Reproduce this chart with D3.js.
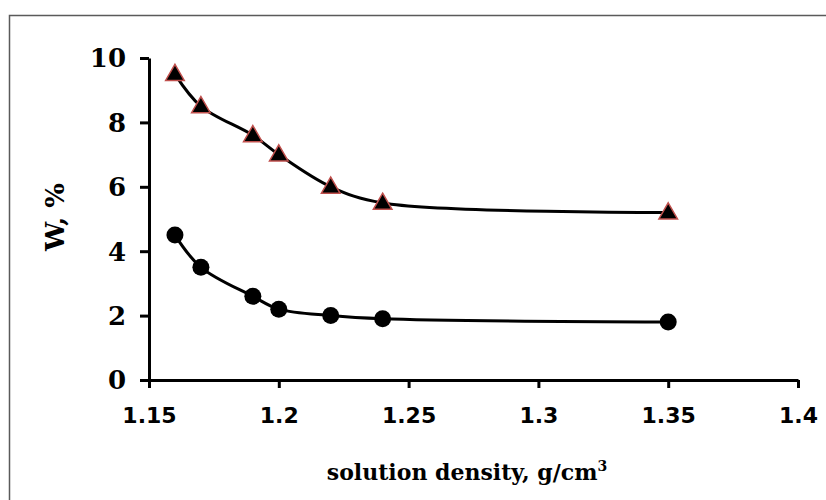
<!DOCTYPE html>
<meta charset="utf-8">
<style>
    body { margin: 0; background: white; }
    .xtick text { font: bold 22px "DejaVu Sans", sans-serif; }
    .ytick text { font: bold 26px "DejaVu Serif", serif; }
</style>
<script src="https://d3js.org/d3.v7.min.js"></script>
<body>
<script>

    // data
    var density = [1.16, 1.17, 1.19, 1.20, 1.22, 1.24, 1.35]
    var upper = [9.5, 8.5, 7.6, 7.0, 6.0, 5.5, 5.2]
    var lower = [4.5, 3.5, 2.6, 2.2, 2.0, 1.9, 1.8]
    var xTicks = [1.15, 1.2, 1.25, 1.3, 1.35, 1.4]
    var yTicks = [0, 2, 4, 6, 8, 10]

    var width = 826
    var height = 500

    var svg = d3.select("body")
        .append("svg")
        .attr("width", width)
        .attr("height", height)

    // outer frame, runs off the right and bottom edges
    svg.append("rect")
        .attr("x", 9.5)
        .attr("y", 15.5)
        .attr("width", 840)
        .attr("height", 520)
        .attr("fill", "none")
        .attr("stroke", "#5a5a5a")
        .attr("stroke-width", 1.5)

    var x = d3.scaleLinear().domain([1.15, 1.4]).range([149, 798])
    var y = d3.scaleLinear().domain([0, 10]).range([380, 58])

    var xAxis = svg.append("g")
        .attr("class", "xtick")
        .attr("transform", "translate(0,380)")
        .call(d3.axisBottom(x)
            .tickValues(xTicks)
            .tickFormat(function (d) { return String(+d.toFixed(2)) })
            .tickSize(8)
            .tickSizeOuter(0)
            .tickPadding(14))

    var yAxis = svg.append("g")
        .attr("class", "ytick")
        .attr("transform", "translate(149,0)")
        .call(d3.axisLeft(y)
            .tickValues(yTicks)
            .tickSize(9)
            .tickSizeOuter(0)
            .tickPadding(14))

    svg.selectAll(".domain, .tick line")
        .attr("stroke", "#000")
        .attr("stroke-width", 3)
    svg.selectAll(".tick text").attr("fill", "#000")
    xAxis.selectAll("text").attr("dy", "0.95em")
    yAxis.selectAll("text").attr("dy", "0.34em")

    var line = d3.line()
        .x(function (d) { return x(d[0]) })
        .y(function (d) { return y(d[1]) })
        .curve(d3.curveCatmullRom.alpha(0.5))

    var upperPts = d3.zip(density, upper)
    var lowerPts = d3.zip(density, lower)

    svg.append("path")
        .attr("d", line(upperPts))
        .attr("fill", "none")
        .attr("stroke", "#000")
        .attr("stroke-width", 3)

    svg.append("path")
        .attr("d", line(lowerPts))
        .attr("fill", "none")
        .attr("stroke", "#000")
        .attr("stroke-width", 3)

    var tri = d3.symbol().type(d3.symbolTriangle).size(150)

    svg.selectAll(".tri")
        .data(upperPts)
        .enter()
        .append("path")
        .attr("class", "tri")
        .attr("d", tri)
        .attr("transform", function (d) { return "translate(" + x(d[0]) + "," + (y(d[1]) + 1) + ")" })
        .attr("fill", "#000")
        .attr("stroke", "#c0504d")
        .attr("stroke-width", 1.5)

    svg.selectAll(".dot")
        .data(lowerPts)
        .enter()
        .append("circle")
        .attr("class", "dot")
        .attr("cx", function (d) { return x(d[0]) })
        .attr("cy", function (d) { return y(d[1]) })
        .attr("r", 8.5)
        .attr("fill", "#000")

    // axis titles
    svg.append("text")
        .text("W, %")
        .attr("transform", "translate(64,217) rotate(-90)")
        .attr("text-anchor", "middle")
        .style("font", "bold 26px 'DejaVu Serif', serif")

    var xt = svg.append("text")
        .attr("x", 467)
        .attr("y", 480)
        .attr("text-anchor", "middle")
        .style("font", "bold 22px 'DejaVu Serif', serif")
    xt.append("tspan").text("solution density, g/cm")
    xt.append("tspan").text("3").attr("dy", -9).style("font-size", "14px")

</script>
